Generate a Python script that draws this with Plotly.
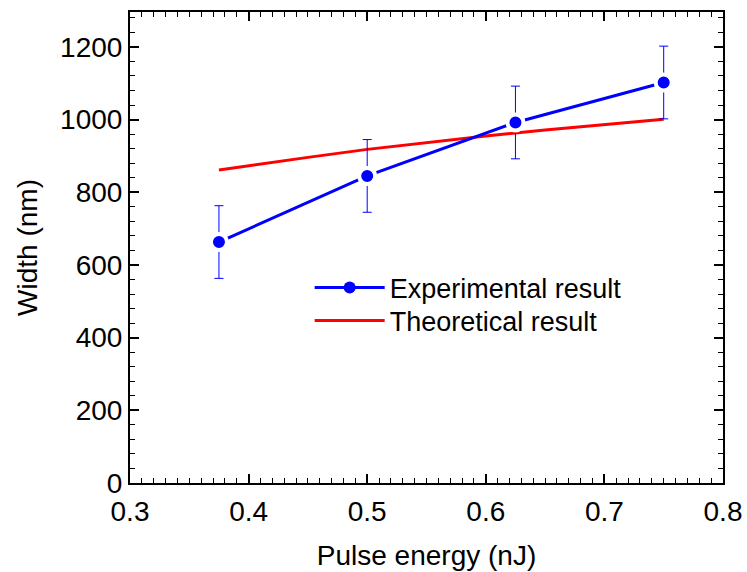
import plotly.graph_objects as go

# Experimental data
exp_energy = [0.375, 0.5, 0.625, 0.75]
exp_width = [663, 845, 992, 1102]
exp_err = [100, 100, 100, 100]

# Theoretical curve
th_energy = [0.375, 0.4, 0.45, 0.5, 0.55, 0.6, 0.65, 0.7, 0.75]
th_width = [861, 873, 896, 918, 937, 955, 971, 987, 1001]

FONT = "Liberation Sans, Arial"
BLUE = "#0000ff"
RED = "#ff0000"

fig = go.Figure()
fig.add_trace(go.Scatter(
    x=th_energy, y=th_width, mode="lines", name="Theoretical result",
    line=dict(color=RED, width=3), showlegend=False,
))
fig.add_trace(go.Scatter(
    x=exp_energy, y=exp_width, mode="lines+markers", name="Experimental result",
    line=dict(color=BLUE, width=3),
    marker=dict(color=BLUE, size=16, line=dict(color="white", width=4)),
    error_y=dict(type="data", array=exp_err, visible=True, color=BLUE, thickness=1, width=4.5),
    showlegend=False,
))
# legend-only entries (no data)
fig.add_trace(go.Scatter(
    x=[None], y=[None], mode="lines+markers", name="Experimental result",
    line=dict(color=BLUE, width=3), marker=dict(color=BLUE, size=12),
    legend="legend",
))
fig.add_trace(go.Scatter(
    x=[None], y=[None], mode="lines", name="Theoretical result",
    line=dict(color=RED, width=3), legend="legend2",
))

axis_common = dict(
    showline=True, linecolor="black", linewidth=2, mirror="ticks",
    ticks="inside", ticklen=9, tickwidth=1.5, tickcolor="black",
    showgrid=False, zeroline=False, automargin=False,
    tickfont=dict(family=FONT, size=28, color="black"),
    title_font=dict(family=FONT, size=28, color="black"),
)

fig.update_xaxes(
    range=[0.3, 0.8], dtick=0.1, tick0=0.3,
    minor=dict(ticks="inside", ticklen=5, dtick=0.01, tickcolor="black", tickwidth=1),
    title_text="Pulse energy (nJ)", title_standoff=20, ticklabelstandoff=2,
    **axis_common,
)
fig.update_yaxes(
    range=[0, 1296], dtick=200, tick0=0,
    minor=dict(ticks="inside", ticklen=5, dtick=40, tickcolor="black", tickwidth=1),
    title_text="Width (nm)", title_standoff=14,
    **axis_common,
)

leg_common = dict(
    xanchor="left", yanchor="middle",
    font=dict(family=FONT, size=27, color="black"),
    bgcolor="rgba(0,0,0,0)", itemwidth=70,
)

fig.update_layout(
    width=747, height=572,
    margin=dict(l=130, r=24, t=12, b=89),
    plot_bgcolor="white", paper_bgcolor="white",
    legend=dict(x=0.303, y=0.414, **leg_common),
    legend2=dict(x=0.303, y=0.344, **leg_common),
    showlegend=True,
)

fig.write_html("out.html")
